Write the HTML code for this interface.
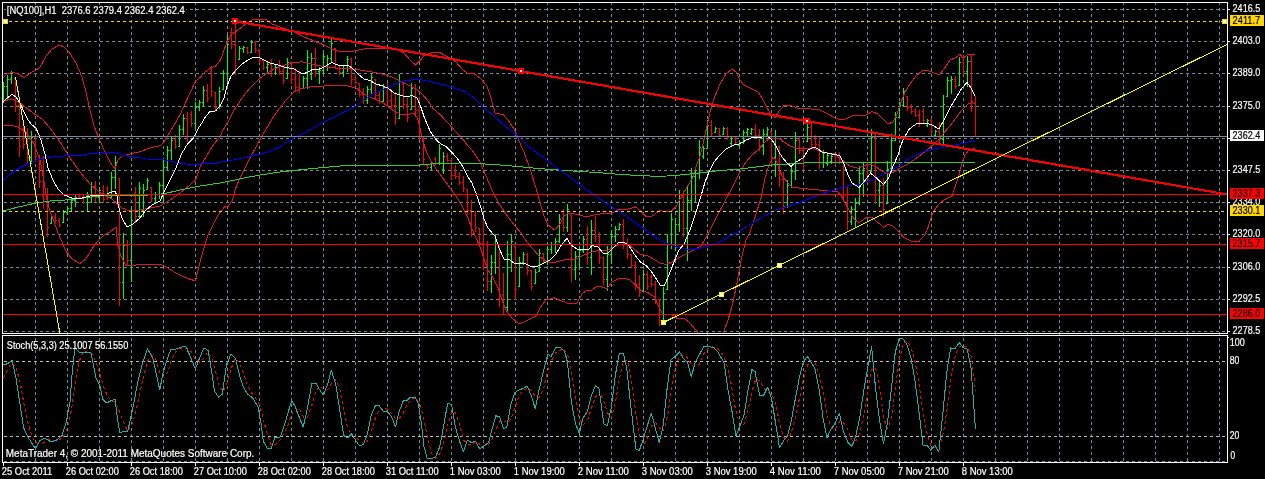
<!DOCTYPE html>
<html><head><meta charset="utf-8"><title>NQ100 H1</title>
<style>
html,body{margin:0;padding:0;background:#000;}
body{width:1265px;height:479px;overflow:hidden;}
svg{display:block;will-change:transform;}
text{font-family:"Liberation Sans","DejaVu Sans",sans-serif;font-size:10px;fill:#fff;stroke:#fff;stroke-width:0.2px;}
</style></head><body>
<svg width="1265" height="479" viewBox="0 0 1265 479">
<rect width="1265" height="479" fill="#000"/>
<g shape-rendering="crispEdges">
<line x1="4" y1="9.5" x2="1227" y2="9.5" stroke="#778899" stroke-width="1" stroke-dasharray="3 3"/>
<line x1="4" y1="41.5" x2="1227" y2="41.5" stroke="#778899" stroke-width="1" stroke-dasharray="3 3"/>
<line x1="4" y1="73.5" x2="1227" y2="73.5" stroke="#778899" stroke-width="1" stroke-dasharray="3 3"/>
<line x1="4" y1="106.5" x2="1227" y2="106.5" stroke="#778899" stroke-width="1" stroke-dasharray="3 3"/>
<line x1="4" y1="138.5" x2="1227" y2="138.5" stroke="#778899" stroke-width="1" stroke-dasharray="3 3"/>
<line x1="4" y1="170.5" x2="1227" y2="170.5" stroke="#778899" stroke-width="1" stroke-dasharray="3 3"/>
<line x1="4" y1="202.5" x2="1227" y2="202.5" stroke="#778899" stroke-width="1" stroke-dasharray="3 3"/>
<line x1="4" y1="234.5" x2="1227" y2="234.5" stroke="#778899" stroke-width="1" stroke-dasharray="3 3"/>
<line x1="4" y1="267.5" x2="1227" y2="267.5" stroke="#778899" stroke-width="1" stroke-dasharray="3 3"/>
<line x1="4" y1="299.5" x2="1227" y2="299.5" stroke="#778899" stroke-width="1" stroke-dasharray="3 3"/>
<line x1="4" y1="331.5" x2="1227" y2="331.5" stroke="#778899" stroke-width="1" stroke-dasharray="3 3"/>
<line x1="35.5" y1="2" x2="35.5" y2="462" stroke="#778899" stroke-width="1" stroke-dasharray="3 3"/>
<line x1="67.5" y1="2" x2="67.5" y2="462" stroke="#778899" stroke-width="1" stroke-dasharray="3 3"/>
<line x1="99.5" y1="2" x2="99.5" y2="462" stroke="#778899" stroke-width="1" stroke-dasharray="3 3"/>
<line x1="131.5" y1="2" x2="131.5" y2="462" stroke="#778899" stroke-width="1" stroke-dasharray="3 3"/>
<line x1="163.5" y1="2" x2="163.5" y2="462" stroke="#778899" stroke-width="1" stroke-dasharray="3 3"/>
<line x1="195.5" y1="2" x2="195.5" y2="462" stroke="#778899" stroke-width="1" stroke-dasharray="3 3"/>
<line x1="227.5" y1="2" x2="227.5" y2="462" stroke="#778899" stroke-width="1" stroke-dasharray="3 3"/>
<line x1="259.5" y1="2" x2="259.5" y2="462" stroke="#778899" stroke-width="1" stroke-dasharray="3 3"/>
<line x1="291.5" y1="2" x2="291.5" y2="462" stroke="#778899" stroke-width="1" stroke-dasharray="3 3"/>
<line x1="323.5" y1="2" x2="323.5" y2="462" stroke="#778899" stroke-width="1" stroke-dasharray="3 3"/>
<line x1="355.5" y1="2" x2="355.5" y2="462" stroke="#778899" stroke-width="1" stroke-dasharray="3 3"/>
<line x1="387.5" y1="2" x2="387.5" y2="462" stroke="#778899" stroke-width="1" stroke-dasharray="3 3"/>
<line x1="419.5" y1="2" x2="419.5" y2="462" stroke="#778899" stroke-width="1" stroke-dasharray="3 3"/>
<line x1="451.5" y1="2" x2="451.5" y2="462" stroke="#778899" stroke-width="1" stroke-dasharray="3 3"/>
<line x1="483.5" y1="2" x2="483.5" y2="462" stroke="#778899" stroke-width="1" stroke-dasharray="3 3"/>
<line x1="515.5" y1="2" x2="515.5" y2="462" stroke="#778899" stroke-width="1" stroke-dasharray="3 3"/>
<line x1="547.5" y1="2" x2="547.5" y2="462" stroke="#778899" stroke-width="1" stroke-dasharray="3 3"/>
<line x1="579.5" y1="2" x2="579.5" y2="462" stroke="#778899" stroke-width="1" stroke-dasharray="3 3"/>
<line x1="611.5" y1="2" x2="611.5" y2="462" stroke="#778899" stroke-width="1" stroke-dasharray="3 3"/>
<line x1="643.5" y1="2" x2="643.5" y2="462" stroke="#778899" stroke-width="1" stroke-dasharray="3 3"/>
<line x1="675.5" y1="2" x2="675.5" y2="462" stroke="#778899" stroke-width="1" stroke-dasharray="3 3"/>
<line x1="707.5" y1="2" x2="707.5" y2="462" stroke="#778899" stroke-width="1" stroke-dasharray="3 3"/>
<line x1="739.5" y1="2" x2="739.5" y2="462" stroke="#778899" stroke-width="1" stroke-dasharray="3 3"/>
<line x1="771.5" y1="2" x2="771.5" y2="462" stroke="#778899" stroke-width="1" stroke-dasharray="3 3"/>
<line x1="803.5" y1="2" x2="803.5" y2="462" stroke="#778899" stroke-width="1" stroke-dasharray="3 3"/>
<line x1="835.5" y1="2" x2="835.5" y2="462" stroke="#778899" stroke-width="1" stroke-dasharray="3 3"/>
<line x1="867.5" y1="2" x2="867.5" y2="462" stroke="#778899" stroke-width="1" stroke-dasharray="3 3"/>
<line x1="899.5" y1="2" x2="899.5" y2="462" stroke="#778899" stroke-width="1" stroke-dasharray="3 3"/>
<line x1="931.5" y1="2" x2="931.5" y2="462" stroke="#778899" stroke-width="1" stroke-dasharray="3 3"/>
<line x1="963.5" y1="2" x2="963.5" y2="462" stroke="#778899" stroke-width="1" stroke-dasharray="3 3"/>
<line x1="995.5" y1="2" x2="995.5" y2="462" stroke="#778899" stroke-width="1" stroke-dasharray="3 3"/>
<line x1="1027.5" y1="2" x2="1027.5" y2="462" stroke="#778899" stroke-width="1" stroke-dasharray="3 3"/>
<line x1="1059.5" y1="2" x2="1059.5" y2="462" stroke="#778899" stroke-width="1" stroke-dasharray="3 3"/>
<line x1="1091.5" y1="2" x2="1091.5" y2="462" stroke="#778899" stroke-width="1" stroke-dasharray="3 3"/>
<line x1="1123.5" y1="2" x2="1123.5" y2="462" stroke="#778899" stroke-width="1" stroke-dasharray="3 3"/>
<line x1="1155.5" y1="2" x2="1155.5" y2="462" stroke="#778899" stroke-width="1" stroke-dasharray="3 3"/>
<line x1="1187.5" y1="2" x2="1187.5" y2="462" stroke="#778899" stroke-width="1" stroke-dasharray="3 3"/>
<line x1="1219.5" y1="2" x2="1219.5" y2="462" stroke="#778899" stroke-width="1" stroke-dasharray="3 3"/>
<line x1="4" y1="461.5" x2="1227" y2="461.5" stroke="#778899" stroke-width="1" stroke-dasharray="3 3"/>
<line x1="4" y1="361.5" x2="1227" y2="361.5" stroke="#C0C0C0" stroke-width="1" stroke-dasharray="3 3"/>
<line x1="4" y1="436.5" x2="1227" y2="436.5" stroke="#C0C0C0" stroke-width="1" stroke-dasharray="3 3"/>
</g>
<g shape-rendering="crispEdges" stroke-width="1">
<path d="M3.5,82V103M2,98.5h1M4,86.5h1M7.5,75V99M6,86.5h1M8,79.5h1M11.5,71V84M10,79.5h1M12,73.5h1M31.5,131V164M30,157.5h1M32,137.5h1M51.5,216V224M50,223.5h1M52,217.5h1M63.5,210V223M62,222.5h1M64,212.5h1M67.5,207V215M66,212.5h1M68,208.5h1M71.5,198V212M70,208.5h1M72,200.5h1M75.5,195V207M74,200.5h1M76,197.5h1M87.5,192V211M86,202.5h1M88,195.5h1M91.5,182V203M90,195.5h1M92,186.5h1M99.5,187V203M98,197.5h1M100,190.5h1M111.5,172V199M110,197.5h1M112,177.5h1M115.5,156V189M114,177.5h1M116,162.5h1M123.5,233V299M122,282.5h1M124,245.5h1M131.5,207V282M130,260.5h1M132,220.5h1M139.5,182V219M138,216.5h1M140,188.5h1M143.5,184V217M142,210.5h1M144,190.5h1M147.5,178V190M146,189.5h1M148,180.5h1M155.5,192V203M154,198.5h1M156,194.5h1M159.5,182V199M158,194.5h1M160,185.5h1M163.5,159V204M162,185.5h1M164,167.5h1M167.5,146V170M166,167.5h1M168,150.5h1M171.5,136V160M170,150.5h1M172,140.5h1M179.5,125V147M178,146.5h1M180,129.5h1M183.5,114V135M182,129.5h1M184,118.5h1M195.5,102V129M194,123.5h1M196,107.5h1M199.5,100V111M198,107.5h1M200,102.5h1M203.5,86V107M202,102.5h1M204,90.5h1M219.5,87V109M218,107.5h1M220,91.5h1M223.5,70V90M222,89.5h1M224,73.5h1M227.5,35V85M226,73.5h1M228,44.5h1M239.5,46V60M238,59.5h1M240,48.5h1M243.5,46V53M242,48.5h1M244,47.5h1M251.5,40V53M250,52.5h1M252,42.5h1M267.5,62V72M266,67.5h1M268,64.5h1M275.5,65V75M274,73.5h1M276,67.5h1M287.5,58V79M286,78.5h1M288,62.5h1M303.5,76V89M302,88.5h1M304,78.5h1M307.5,50V89M306,78.5h1M308,57.5h1M311.5,53V80M310,74.5h1M312,58.5h1M319.5,67V84M318,71.5h1M320,70.5h1M323.5,53V73M322,70.5h1M324,56.5h1M327.5,55V71M326,67.5h1M328,58.5h1M331.5,39V63M330,58.5h1M332,43.5h1M343.5,66V77M342,72.5h1M344,68.5h1M347.5,56V72M346,68.5h1M348,59.5h1M367.5,86V104M366,100.5h1M368,89.5h1M371.5,74V94M370,89.5h1M372,77.5h1M383.5,84V102M382,101.5h1M384,87.5h1M399.5,74V119M398,118.5h1M400,82.5h1M411.5,83V110M410,109.5h1M412,88.5h1M431.5,162V170M430,167.5h1M432,163.5h1M439.5,144V165M438,163.5h1M440,148.5h1M443.5,152V174M442,169.5h1M444,156.5h1M491.5,255V293M490,281.5h1M492,262.5h1M495.5,234V274M494,262.5h1M496,241.5h1M507.5,241V313M506,307.5h1M508,254.5h1M511.5,234V272M510,254.5h1M512,241.5h1M519.5,257V287M518,286.5h1M520,262.5h1M523.5,252V265M522,262.5h1M524,254.5h1M535.5,269V284M534,283.5h1M536,272.5h1M539.5,249V272M538,271.5h1M540,253.5h1M547.5,246V265M546,261.5h1M548,249.5h1M551.5,242V254M550,249.5h1M552,244.5h1M555.5,238V253M554,244.5h1M556,241.5h1M559.5,214V243M558,241.5h1M560,219.5h1M567.5,204V232M566,227.5h1M568,209.5h1M575.5,251V280M574,269.5h1M576,256.5h1M579.5,246V270M578,256.5h1M580,250.5h1M583.5,236V253M582,250.5h1M584,239.5h1M591.5,220V275M590,257.5h1M592,230.5h1M607.5,246V291M606,279.5h1M608,254.5h1M611.5,230V264M610,254.5h1M612,236.5h1M615.5,226V242M614,236.5h1M616,229.5h1M619.5,223V230M618,229.5h1M620,224.5h1M643.5,270V292M642,291.5h1M644,274.5h1M663.5,287V322M662,320.5h1M664,293.5h1M667.5,234V290M666,289.5h1M668,244.5h1M671.5,213V249M670,244.5h1M672,219.5h1M675.5,218V251M674,244.5h1M676,224.5h1M679.5,190V232M678,224.5h1M680,197.5h1M687.5,187V261M686,228.5h1M688,200.5h1M691.5,168V211M690,200.5h1M692,176.5h1M695.5,167V202M694,176.5h1M696,173.5h1M699.5,140V179M698,173.5h1M700,147.5h1M703.5,146V159M702,156.5h1M704,148.5h1M707.5,120V149M706,148.5h1M708,125.5h1M715.5,127V133M714,132.5h1M716,128.5h1M723.5,127V135M722,134.5h1M724,128.5h1M731.5,136V146M730,143.5h1M732,138.5h1M739.5,141V147M738,145.5h1M740,142.5h1M743.5,130V144M742,142.5h1M744,132.5h1M747.5,128V137M746,132.5h1M748,129.5h1M751.5,128V135M750,133.5h1M752,129.5h1M763.5,129V155M762,146.5h1M764,134.5h1M767.5,127V137M766,134.5h1M768,129.5h1M775.5,130V177M774,157.5h1M776,138.5h1M787.5,180V208M786,206.5h1M788,185.5h1M791.5,167V188M790,185.5h1M792,171.5h1M795.5,132V180M794,171.5h1M796,140.5h1M807.5,124V142M806,141.5h1M808,127.5h1M823.5,150V168M822,162.5h1M824,153.5h1M827.5,153V166M826,163.5h1M828,155.5h1M831.5,154V164M830,161.5h1M832,156.5h1M851.5,206V225M850,221.5h1M852,209.5h1M855.5,198V228M854,209.5h1M856,203.5h1M859.5,166V205M858,203.5h1M860,173.5h1M863.5,162V197M862,173.5h1M864,168.5h1M871.5,129V172M870,171.5h1M872,137.5h1M879.5,180V207M878,190.5h1M880,185.5h1M887.5,161V204M886,203.5h1M888,169.5h1M891.5,134V169M890,168.5h1M892,140.5h1M895.5,112V141M894,140.5h1M896,117.5h1M899.5,102V118M898,117.5h1M900,105.5h1M903.5,88V107M902,105.5h1M904,91.5h1M927.5,119V127M926,125.5h1M928,120.5h1M935.5,130V137M934,135.5h1M936,131.5h1M943.5,95V145M942,139.5h1M944,104.5h1M947.5,77V97M946,96.5h1M948,80.5h1M951.5,76V94M950,80.5h1M952,79.5h1M959.5,57V86M958,85.5h1M960,62.5h1M967.5,56V87M966,71.5h1M968,61.5h1" stroke="#00FF00" fill="none"/>
<path d="M15.5,78V112M14,78.5h1M16,105.5h1M19.5,101V157M18,105.5h1M20,146.5h1M23.5,126V149M22,130.5h1M24,144.5h1M27.5,128V164M26,144.5h1M28,157.5h1M35.5,136V162M34,137.5h1M36,156.5h1M39.5,155V188M38,156.5h1M40,181.5h1M43.5,156V209M42,181.5h1M44,199.5h1M47.5,188V237M46,199.5h1M48,227.5h1M55.5,213V223M54,217.5h1M56,220.5h1M59.5,218V227M58,220.5h1M60,225.5h1M79.5,195V199M78,196.5h1M80,197.5h1M83.5,195V204M82,197.5h1M84,202.5h1M95.5,181V202M94,186.5h1M96,197.5h1M103.5,185V203M102,190.5h1M104,199.5h1M107.5,186V200M106,188.5h1M108,197.5h1M119.5,178V306M118,178.5h1M120,282.5h1M127.5,240V266M126,245.5h1M128,260.5h1M135.5,187V223M134,193.5h1M136,216.5h1M151.5,187V202M150,187.5h1M152,198.5h1M175.5,135V149M174,140.5h1M176,146.5h1M187.5,112V142M186,118.5h1M188,136.5h1M191.5,111V127M190,114.5h1M192,123.5h1M207.5,84V102M206,90.5h1M208,98.5h1M211.5,66V97M210,71.5h1M212,91.5h1M215.5,92V111M214,92.5h1M216,107.5h1M231.5,28V49M230,32.5h1M232,44.5h1M235.5,22V75M234,44.5h1M236,65.5h1M247.5,47V54M246,47.5h1M248,52.5h1M255.5,41V53M254,42.5h1M256,50.5h1M259.5,49V63M258,50.5h1M260,60.5h1M263.5,59V70M262,60.5h1M264,67.5h1M271.5,59V77M270,64.5h1M272,73.5h1M279.5,60V75M278,67.5h1M280,71.5h1M283.5,67V84M282,71.5h1M284,80.5h1M291.5,62V84M290,62.5h1M292,79.5h1M295.5,68V92M294,79.5h1M296,87.5h1M299.5,71V93M298,87.5h1M300,88.5h1M315.5,48V77M314,58.5h1M316,71.5h1M335.5,48V69M334,48.5h1M336,64.5h1M339.5,65V75M338,65.5h1M340,72.5h1M351.5,58V85M350,59.5h1M352,79.5h1M355.5,74V85M354,79.5h1M356,82.5h1M359.5,83V97M358,83.5h1M360,94.5h1M363.5,88V104M362,94.5h1M364,100.5h1M375.5,79V99M374,79.5h1M376,95.5h1M379.5,92V104M378,95.5h1M380,101.5h1M387.5,83V105M386,87.5h1M388,100.5h1M391.5,90V109M390,100.5h1M392,105.5h1M395.5,92V125M394,105.5h1M396,118.5h1M403.5,83V109M402,83.5h1M404,104.5h1M407.5,98V122M406,104.5h1M408,117.5h1M415.5,84V117M414,88.5h1M416,110.5h1M419.5,97V140M418,110.5h1M420,131.5h1M423.5,136V165M422,136.5h1M424,159.5h1M427.5,165V169M426,165.5h1M428,167.5h1M435.5,157V165M434,158.5h1M436,163.5h1M447.5,153V162M446,156.5h1M448,160.5h1M451.5,159V180M450,160.5h1M452,175.5h1M455.5,165V179M454,175.5h1M456,176.5h1M459.5,172V185M458,176.5h1M460,182.5h1M463.5,176V192M462,182.5h1M464,188.5h1M467.5,189V215M466,189.5h1M468,210.5h1M471.5,200V237M470,210.5h1M472,230.5h1M475.5,211V232M474,215.5h1M476,227.5h1M479.5,228V247M478,228.5h1M480,243.5h1M483.5,220V270M482,243.5h1M484,260.5h1M487.5,241V291M486,260.5h1M488,281.5h1M499.5,246V307M498,246.5h1M500,295.5h1M503.5,273V315M502,295.5h1M504,307.5h1M515.5,246V300M514,246.5h1M516,289.5h1M527.5,253V275M526,254.5h1M528,270.5h1M531.5,270V290M530,270.5h1M532,286.5h1M543.5,253V264M542,253.5h1M544,261.5h1M563.5,209V232M562,219.5h1M564,227.5h1M571.5,215V282M570,215.5h1M572,269.5h1M587.5,226V265M586,239.5h1M588,257.5h1M595.5,216V242M594,230.5h1M596,236.5h1M599.5,232V264M598,236.5h1M600,257.5h1M603.5,257V285M602,257.5h1M604,279.5h1M623.5,219V249M622,224.5h1M624,243.5h1M627.5,238V259M626,243.5h1M628,254.5h1M631.5,254V268M630,254.5h1M632,265.5h1M635.5,261V290M634,265.5h1M636,284.5h1M639.5,275V297M638,284.5h1M640,292.5h1M647.5,271V290M646,274.5h1M648,286.5h1M651.5,274V287M650,276.5h1M652,284.5h1M655.5,281V304M654,284.5h1M656,299.5h1M659.5,299V326M658,299.5h1M660,320.5h1M683.5,191V237M682,197.5h1M684,228.5h1M711.5,120V137M710,125.5h1M712,133.5h1M719.5,128V137M718,128.5h1M720,135.5h1M727.5,127V140M726,128.5h1M728,137.5h1M735.5,136V144M734,138.5h1M736,142.5h1M755.5,124V139M754,129.5h1M756,135.5h1M759.5,129V151M758,135.5h1M760,146.5h1M771.5,131V164M770,131.5h1M772,157.5h1M779.5,146V187M778,146.5h1M780,179.5h1M783.5,172V214M782,179.5h1M784,206.5h1M799.5,136V154M798,140.5h1M800,150.5h1M803.5,146V170M802,150.5h1M804,165.5h1M811.5,123V149M810,127.5h1M812,144.5h1M815.5,135V147M814,137.5h1M816,144.5h1M819.5,136V169M818,144.5h1M820,162.5h1M835.5,155V165M834,156.5h1M836,162.5h1M839.5,152V164M838,154.5h1M840,161.5h1M843.5,160V202M842,161.5h1M844,194.5h1M847.5,187V230M846,194.5h1M848,221.5h1M867.5,163V183M866,168.5h1M868,179.5h1M875.5,133V204M874,137.5h1M876,190.5h1M883.5,178V217M882,185.5h1M884,209.5h1M907.5,96V111M906,96.5h1M908,107.5h1M911.5,104V114M910,107.5h1M912,111.5h1M915.5,108V117M914,111.5h1M916,115.5h1M919.5,110V127M918,115.5h1M920,123.5h1M923.5,108V124M922,111.5h1M924,120.5h1M931.5,118V135M930,120.5h1M932,131.5h1M939.5,122V144M938,131.5h1M940,139.5h1M955.5,76V89M954,79.5h1M956,86.5h1M963.5,55V75M962,62.5h1M964,71.5h1M971.5,55V112M970,61.5h1M972,101.5h1M975.5,96V137M974,103.5h1M976,136.5h1" stroke="#FF0000" fill="none"/>
</g>
<defs><clipPath id="cm"><rect x="3" y="3" width="1224" height="330"/></clipPath><clipPath id="cs"><rect x="3" y="336" width="1224" height="126"/></clipPath></defs>
<g stroke-linejoin="round" shape-rendering="crispEdges" clip-path="url(#cm)">
<polyline points="3,78.1 7,74.1 12,72.1 18,73.7 24,77.5 30,73.1 36,70.1 40,67.1 46,56.1 52,49 59,45 64,47 69,52 76,63 82,77 86,92 90,110 94,126 98,136 104,150 110,162 115,169 118,160 122,156 130,154 140,151.7 150,148 160,145.7 164,142 170,132 176,122 180.4,114 184.4,105 190.5,92 195.5,81 200.5,77 204.5,72.5 210.5,68 215.5,66 220.5,60 224,50 228,40 232,34 238,30 246,24 253,19.4 260,19 267,20 272,24 280,27 292,31 304,37 314,41 324,45 332,49 340,51.5 352,51.5 364,49 376,48.7 386,48 396,49 404,53 410,60 415.5,65 420.5,60 424.5,55 432.5,52.5 440.5,53 448,57 456,62 462,69 467,73 474,73.5 480,78 487,86 491,98 495,113 503,114.5 508,120 514,129 518,138 521,146 524,152 530,169 536,188 540,202 544,216 548,225 555,230 560,224 564,216 569,213 578,214.6 586,217 594,215 602,213.6 612,213 618,209.8 628,209 635.5,207 640.5,211 646.5,217 652.5,216 659.5,210.5 664.5,211.6 671.5,211 676.5,206 680.5,198 686.5,188 693,177 697,164 700,156 703,144 707,126 710,112 715,96 720,84 726,74 732,69 736,72 740,80 744,85 750,88 758,92 762,98 766,106 770,113 775,118 779,111 784,105.7 792,106 800,109 808,108.7 820,110 828,114 836,118.5 842,120 848,118 854,115 866,115 872,111.5 878,114 883,119 888,124 893,122 897,114 901,102 905,92 910,84 916,76 922,71 927,70.5 932,72 939,75 944,69 950,60 955,58 960,54.4 963,58 968,54.4 974.7,54.4" fill="none" stroke="#DC143C" stroke-width="1"/>
<polyline points="3,101 12,99 20,103 28,109 36,115 42,119 50,128 60,142 70,158 80,172 90,184 98,191 104,195 112,199 122,208 130,211 140,210 150,208 160,206 170,200 180,193 190,185 195.5,180 200.5,166 206.5,156 212.5,146 220.5,136 222,132 228,122 234,110 237,106 242,98 250,88 258,80 266,74 274,69 282,66 292,63 302,61.7 308,63 316,65 326,67 336,68 348,68.5 360,70 372,72 384,74.5 392,77 400,81 408,85 416,89 422,94 428,101 432.5,108 440.5,115 448,123 456,132 462,138 468,146 472,150 480,162 486,176 492,190 498,202 506,214 514,225 522,234 524,238 532,248 540,257 546,261 552,263 560,261 568,259 576,259 584,255 592,252 600,250 608,250 614,247 620,244 628,244 634,249 640,254 648,256 655,260 660,263 666,264.5 672,262 680,257 688,253 694,250 701,246 708,234 716,218 724,203 732,188 740,172 746,162 752,155 758,150 764,143 769,138.6 775,138 780,139 784,142 790,146 796,148 804,148 812,148 820,151 828,153 834,153.5 842,160 850,166 858,168.4 866,165 870,164 876,167 882,171 888,174 894,172 900,168 908,164 918,157 926,151 934,144 940,138 943,134 950,126 956,118 962,110 968,104 972,102.5 974.7,104" fill="none" stroke="#DC143C" stroke-width="1"/>
<polyline points="3,126 10,125 18,127 26,132 34,144 40,160 43,176 46,194 49,208 54,222 60,238 66,251 72,259 80,263.5 86,259 92,249 98,241 104,235 110,232 116,227 118,246 121,256 126,265.7 140,264.7 160,264 166,267 176,273 186,277.8 195.5,281 197.5,272 200.5,260 204.5,246 207.5,236 212.5,226 218,215 224.5,207 228.5,206 232.6,200 235,190 239,180 244,170 250,158 256,147 262,136 268,126 274,116 280,108 286,100 294,92 300,89 310,87 324,86 336,85 348,86 356,88 364,94 372,98 380,101 386,105 394,111 400,114 406,115 414,113 417.5,118 420.5,130 422.5,140 426.5,152 430.5,160 435.5,168 440.5,175 448,185 456,196 462,206 468,218 472,229 476,238 480,247 484,259 488,270 493,278 498,288 502,300 506,310 511,317 519,324 526,321 536,316 540,308 546,300 554,297.8 562,301 570,304 577,303 582,294 587,290 592,290 597,286 602,287 607,288.5 612,282 618,279 624,278 630,280 635.5,285 640.5,290 648.5,293 654.5,297 658.5,306 662.5,314 672,314.6 678,319 684,318 690,323 695,329 699,334 711,345 723,334 728,320 732,306 736,288 739,272 742,256 746,240 750,232 756,214 761,198 765,178 769,165 772,159 775,158 778,166 782,176 788,183 792,187 804,188.7 816,189.7 828,191 838,192 843,199 847.6,207.5 851.4,215 855,220 859,222.6 862.7,220 866.4,217.3 872,217.5 876.4,221.3 880.2,224.4 883.3,227.6 887.7,224.4 892.7,225.7 897.7,230.7 904,237.6 911.5,241.4 919,241.4 924,236 928,227.6 931.6,216 934,211 939,203.8 943,200.6 948,198 952,196 955,187 959,175 962,163 965,155 969,150 974.7,148.4" fill="none" stroke="#DC143C" stroke-width="1"/>
<polyline points="3,211 20,206.6 36,203 50,201 68,199.8 84,198 104,195.4 120,195 148,195 164,193.8 180,190 200,186 220,183 232,180.6 244,178 260,175 280,172 300,169.8 320,167.8 340,166 360,165.8 370,165 390,165.8 404,165.5 420.5,165 430.5,164 440.5,163.4 460,163 480,163.7 500,165 520,166.7 540,168.7 560,170 580,171.5 600,172.7 620,174.5 640,175.5 660,176.5 680,175 700,173 720,170.5 740,169 760,166.5 772,165 788,164 812,162.5 836,162.5 860,162.5 913,162.5 974.7,162.5" fill="none" stroke="#32CD32" stroke-width="1"/>
<polyline points="3,180.5 8,176 14,171 20,167.7 28,163.7 36,160 44,158 56,156.5 68,155.7 80,155.3 90,153.7 100,153 108,152 116,152 122,155 130,156.7 140,157.7 150,159.5 164,160 174.4,162 186.4,164 200.5,164 216.5,163 228.5,161 240.6,158.5 256,155 268,152 280,147 290,140 300,135 310,130 320,124 330,119 340,114 350,109 358,105 364,99 374,94 384,89 394,84.5 404,81 414,79.5 422,80 432,82 442,84.5 452,87.5 464,91 474,98 484,108 494,116 506,127 518,136 528,146 540,155 550,163 560,170 570,177 580,185 590,192 600,199 610,205.8 620,212 630,219 640,226 648.5,232 653.5,236 660.5,240.5 668.5,244 676.5,247 684.6,249 693,249.6 700,248.4 712,245 720,242 726,238 736,233 746,227 756,221 766,215 776,210 786,207 796,204 806,200 816,196 826,192.5 836,190 844,186.5 852,185 860,184.5 868,181 876,178 884,174 892,170 900,165 908,159 920,153 932,149.5 944,147 956,145 968,142 974.7,141" fill="none" stroke="#0000FF" stroke-width="1"/>
<polyline points="3,102 7,98 12,94.5 16,97 20,103 24,112 28,120 32,125 36,128 41,140 45,154 48,168 53,180 58,189 64,195 72,198 82,198 90,196 104,195 112,192 115,191 117,196 118,204 120,212 122,218 127,227 133,224 140,218 146,210 152,205 160,201 164,192 170,180 176.4,167 181.4,154 187.4,144 193.5,138 198.5,128 202.5,122 204.5,118 209.5,112 215.5,111 220.5,105 224,98 227,86 231,76 236,70 242,64 248,60 253,57.5 259,57.5 264,60 270,63 278,65 286,67.5 294,69 299,72 303,74 308,72 312,69.7 318,69.7 324,67 329,64 332,62.5 336,64.5 340,65.5 348,65.5 352,68 358,74 364,79 370,80.5 376,84 382,85.7 388,88 394,93 400,95 406,97 412,95.6 417,98 420.5,106 424.5,118 430.5,132 436.5,140 440.5,143.7 446.5,147 452.5,153 458.5,160 463.6,168 468.6,178 472,183 477,196 481,208 484,219 488,228 493,234 495,236 499,248 504,259 510,260 515,264 520,263 526,264 532,267 538,266 544,263 550,260 556,254 562,244 567,238.4 571,245 577,249 583,249 588,250 592,245.6 598,247 603,253 608,253 614,247 619,242 624,242 629,246 635.5,256 640.5,262 646.5,266 652.5,273 657.5,281 660.5,285.5 664.5,285.5 668.5,276 674,262 679,250 684,244 690,230 696,212 701,196 705,182 709,172 714,162 719,156 726,149 734,145 740,143.8 746,140 754,137 762,137 768,136.8 772,140 776,146 779,152 782,157 787,163 791,166.4 796,162 803,158 807,152 808,150 814,147 818,149 822,152 832,154 836,154.5 840,156 844,164 848,175 852,183 859,187.5 864,182 870.5,173 877.5,179 883.5,184.5 888.5,178 893.5,165 898.5,154 900.5,146 904.5,137 908.6,130 913,126 918,123 926,123 932,125 939,129 944,120 950,108 956,98 962,88 967,82.5 971,88 975,96" fill="none" stroke="#FFFFFF" stroke-width="1"/>
</g>
<g shape-rendering="crispEdges">
<line x1="3" y1="136.5" x2="1227" y2="136.5" stroke="#778899" stroke-width="1"/>
<line x1="3" y1="21.5" x2="1227" y2="21.5" stroke="#FFD700" stroke-width="1" stroke-dasharray="3 3"/>
<line x1="3" y1="211.5" x2="1227" y2="211.5" stroke="#FFD700" stroke-width="1" stroke-dasharray="3 3"/>
<line x1="3" y1="194.5" x2="1227" y2="194.5" stroke="#FF0000" stroke-width="1"/>
<line x1="3" y1="244.5" x2="1227" y2="244.5" stroke="#FF0000" stroke-width="1"/>
<line x1="3" y1="314.5" x2="1227" y2="314.5" stroke="#FF0000" stroke-width="1"/>
</g>
<g shape-rendering="crispEdges" clip-path="url(#cm)">
<line x1="235" y1="21.21" x2="1227.5" y2="194.52" stroke="#FF0000" stroke-width="2.1"/>
<line x1="663.5" y1="322.5" x2="1227" y2="44.5" stroke="#FFFF00" stroke-width="1"/>
<line x1="15.5" y1="77" x2="59.8" y2="333" stroke="#FFFF00" stroke-width="1"/>
</g>
<g shape-rendering="crispEdges">
<rect x="232" y="18" width="6" height="6" fill="#FF0000"/><rect x="234" y="20" width="2" height="2" fill="#fff"/>
<rect x="518" y="68" width="6" height="6" fill="#FF0000"/><rect x="520" y="70" width="2" height="2" fill="#fff"/>
<rect x="804" y="118" width="6" height="6" fill="#FF0000"/><rect x="806" y="120" width="2" height="2" fill="#fff"/>
<rect x="661" y="320" width="5" height="5" fill="#FFFF00"/><rect x="662" y="321" width="3" height="3" fill="#fff"/>
<rect x="719" y="292" width="5" height="5" fill="#FFFF00"/><rect x="720" y="293" width="3" height="3" fill="#fff"/>
<rect x="777" y="263" width="5" height="5" fill="#FFFF00"/><rect x="778" y="264" width="3" height="3" fill="#fff"/>
<rect x="3" y="19" width="5" height="5" fill="#FFD700"/><rect x="4" y="20" width="3" height="3" fill="#fff"/><rect x="1222" y="19" width="5" height="5" fill="#FFD700"/><rect x="1223" y="20" width="3" height="3" fill="#fff"/>
</g>
<g stroke-linejoin="round" shape-rendering="crispEdges" clip-path="url(#cs)">
<polyline points="3.5,378 7.5,370 11.5,363 15.5,366.6 19.5,379.1 23.5,401.2 27.5,421.2 31.5,435 35.5,442.4 39.5,444.2 43.5,442.9 47.5,439.8 51.5,440.1 55.5,440.7 59.5,439.9 63.5,436.3 67.5,427.8 71.5,409.3 75.5,381.9 79.5,360.8 83.5,350.8 87.5,352.2 91.5,353.3 95.5,361.2 99.5,372 103.5,386.8 107.5,395.8 111.5,401 115.5,402 119.5,411.6 123.5,421.7 127.5,431.1 131.5,425.4 135.5,413.1 139.5,394.4 143.5,376.5 147.5,361.4 151.5,355 155.5,358.4 159.5,371.7 163.5,376.8 167.5,372.8 171.5,359.6 175.5,352.1 179.5,348.6 183.5,347.9 187.5,348.3 191.5,352.2 195.5,359.4 199.5,362.1 203.5,358.6 207.5,352.5 211.5,356.7 215.5,371.2 219.5,386.6 223.5,391.6 227.5,381.5 231.5,367.6 235.5,358.4 239.5,362.8 243.5,373.6 247.5,385.5 251.5,392.7 255.5,398 259.5,404.9 263.5,419.8 267.5,434.9 271.5,445.7 275.5,444.2 279.5,440.5 283.5,433.9 287.5,426.4 291.5,414.6 295.5,407.9 299.5,409 303.5,417 307.5,417 311.5,406.4 315.5,392.2 319.5,386.2 323.5,389.2 327.5,389.6 331.5,383.4 335.5,379.7 339.5,387.6 343.5,408.8 347.5,426.9 351.5,435.4 355.5,437.3 359.5,440 363.5,443.4 367.5,441.3 371.5,430.8 375.5,418 379.5,408.8 383.5,407.7 387.5,409.7 391.5,413.3 395.5,418.5 399.5,418.1 403.5,412.7 407.5,403.7 411.5,399.2 415.5,398.4 419.5,402.2 423.5,417.3 427.5,437.5 431.5,453.2 435.5,458.1 439.5,454.2 443.5,443.6 447.5,426 451.5,411.9 455.5,412.2 459.5,424.5 463.5,440.1 467.5,444.3 471.5,444.8 475.5,441.3 479.5,444.1 483.5,445.4 487.5,446.1 491.5,440.4 495.5,430.5 499.5,421.7 503.5,420.6 507.5,422.8 511.5,417.9 515.5,405.9 519.5,394.7 523.5,390 527.5,388.2 531.5,390.5 535.5,397 539.5,397.5 543.5,388.9 547.5,371.5 551.5,360.6 555.5,352.9 559.5,350.4 563.5,348.8 567.5,353.8 571.5,371.9 575.5,396.3 579.5,419.5 583.5,424.4 587.5,420.2 591.5,407.8 595.5,397.4 599.5,391.2 603.5,399.9 607.5,413 611.5,417.7 615.5,401.9 619.5,377.9 623.5,360.5 627.5,360.8 631.5,380.5 635.5,410.9 639.5,435.8 643.5,444.6 647.5,437.8 651.5,425.8 655.5,422.6 659.5,427.9 663.5,430.9 667.5,416.5 671.5,389.2 675.5,367 679.5,355.7 683.5,355.4 687.5,357.6 691.5,365.6 695.5,366.7 699.5,364 703.5,354.3 707.5,349.1 711.5,346.7 715.5,347.6 719.5,350.5 723.5,355.5 727.5,367.8 731.5,385.7 735.5,409.3 739.5,422.8 743.5,425.3 747.5,412.2 751.5,393.9 755.5,379.8 759.5,380.1 763.5,387.9 767.5,392.3 771.5,393.7 775.5,402.8 779.5,423 783.5,437.1 787.5,441.5 791.5,432 795.5,417.7 799.5,398.2 803.5,378.9 807.5,365.2 811.5,360.5 815.5,363.8 819.5,375.5 823.5,394.6 827.5,416.4 831.5,428.4 835.5,429.1 839.5,421.6 843.5,422.6 847.5,428.9 851.5,439.7 855.5,441.5 859.5,434 863.5,416.1 867.5,393.4 871.5,369.6 875.5,368 879.5,385 883.5,417.2 887.5,428.7 891.5,417.9 895.5,387 899.5,359.1 903.5,343.1 907.5,341.4 911.5,348.7 915.5,363.8 919.5,387.1 923.5,415.2 927.5,435.7 931.5,446.8 935.5,447.2 939.5,447 943.5,432.6 947.5,406.5 951.5,374.1 955.5,354.5 959.5,346.2 963.5,346.2 967.5,347.1 971.5,357.6 975.5,391" fill="none" stroke="#FF0000" stroke-width="1" stroke-dasharray="3 3"/>
<polyline points="3,365 8,363.6 12,360 16,378 20,404.4 23.7,428 29,438.7 35.5,449 39.5,441 44.7,438 51,442 56.6,440 62,435.5 66,423 70,402 72.4,370 75,348 79,352 84,352 91,353 93.4,365 96,378 100,386 102.7,399 106.6,403 110.6,401 115,399 117,415 119.8,433 123.7,431 127.7,431 130.3,420 134,402 138,381 142,365 147.4,348.6 152.7,358 156.6,375.5 159.8,390 163,373 167,359.7 171,349 176.4,349 181.6,347 185.6,346.5 189.5,354.4 195.3,369 200,357 204,347.8 208,350.5 210.6,365 214.5,391 218.5,397 222.4,394 226.4,365 231,354 235.6,358.4 239.5,375.5 243.5,387 247.4,394 252.7,398 258,407 261,423 263.2,441 267,448 271,449 275,437 280.3,437 284.3,425.5 288.2,412 291.7,401 294.8,405.8 298.8,416 303.2,427 306.7,412 312,383 315.9,383.4 319.8,390 323.4,395 328,383.4 331.3,370 335.8,384.7 339.7,409.7 343.7,435.5 347.6,438 351.6,434 355.5,440 359.5,446 363.4,444.5 367.4,434 371.3,415 375.3,405.8 379.2,405.8 383.2,411 388,412 392,417.6 395.5,426.8 399,412 403.4,400.5 406.9,400.5 410.8,397 414.8,397 418.2,403 421.3,423 424,446.6 427.4,459 431.9,458.4 435.8,456.6 439.8,446.6 443.7,425.5 447.7,403 451.6,405 455.6,428 459.5,441 463.5,451.8 467.4,440 471.4,442.6 475.3,441 479.8,449 483.2,446.6 488.5,442.6 492.4,428 495.8,415.8 499.8,417 503.7,428.7 506.9,426.8 510.8,404.4 514.8,392.6 518.7,390 522.7,388.6 527.2,386 530.6,394 535.3,408.4 538.5,392.6 542.4,375.5 547.7,354.4 551,356.5 555.6,347.8 560.8,347.8 564.8,351.8 567.4,362 571.4,401.8 575.3,423 579.3,433.4 583.2,417.6 587.2,412 591.1,396.5 595.6,385.5 599,388.6 603.8,424 607.4,425.5 611.4,407 615.3,375.5 619.3,353 623.2,353 626.7,367.6 630.6,404.4 635.9,449 639.3,450.5 643.4,438.7 647.4,425.5 651.3,413 655.3,428 659.2,442.6 663.2,425.5 667.1,388.6 671,359.7 675,356.5 679.5,351.8 683.4,358.4 687.4,362 691.3,376.8 695.3,362 699.2,355 704,346 708.4,346 713.7,347.8 717.7,351.8 721.6,358.4 724.2,363.6 728.2,391 732.1,412 736,436 740,425.5 744,415 747.9,391 751.9,369.7 755,371.5 759.8,396 763.7,395 767.7,387 771.6,399 775.6,423 779.5,447.9 783.5,441 787.4,436 791.4,420 795.3,399 799.3,378 803.2,362 807.2,356.5 811,362 815,369 819,388.6 823,417.6 826.9,438 830.8,429.4 834.8,424 839.3,413 843.2,430.8 848,442.6 851.9,446.6 855.8,436 859.8,417.6 863.7,391 867.7,367.6 871.6,347 875.6,388.6 879.5,420 883.5,444 887.4,423 891.4,388.6 895.3,351.8 899.3,338.6 903.2,339 907.2,345 911.1,358.4 915,380.7 919,412 923,445 926.9,445 930.9,450.5 934.8,445 938.8,451.8 942.7,415 946.7,372.8 950.6,347.8 954.6,349 959.3,342.6 963.2,347.8 967.2,349 971,367.6 975.5,429.5" fill="none" stroke="#20B2AA" stroke-width="1"/>
</g>
<g shape-rendering="crispEdges">
<rect x="1228" y="0" width="37" height="479" fill="#000"/>
<line x1="2.5" y1="2" x2="2.5" y2="334" stroke="#fff" stroke-width="1"/>
<line x1="2" y1="2.5" x2="1228" y2="2.5" stroke="#fff" stroke-width="1"/>
<line x1="2" y1="333.5" x2="1228" y2="333.5" stroke="#fff" stroke-width="1"/>
<line x1="1227.5" y1="2" x2="1227.5" y2="334" stroke="#fff" stroke-width="1"/>
<line x1="2.5" y1="335" x2="2.5" y2="463" stroke="#fff" stroke-width="1"/>
<line x1="2" y1="335.5" x2="1228" y2="335.5" stroke="#fff" stroke-width="1"/>
<line x1="2" y1="462.5" x2="1228" y2="462.5" stroke="#fff" stroke-width="1"/>
<line x1="1227.5" y1="335" x2="1227.5" y2="463" stroke="#fff" stroke-width="1"/>
<line x1="1228" y1="9.5" x2="1230" y2="9.5" stroke="#fff" stroke-width="1"/>
<line x1="1228" y1="41.5" x2="1230" y2="41.5" stroke="#fff" stroke-width="1"/>
<line x1="1228" y1="73.5" x2="1230" y2="73.5" stroke="#fff" stroke-width="1"/>
<line x1="1228" y1="106.5" x2="1230" y2="106.5" stroke="#fff" stroke-width="1"/>
<line x1="1228" y1="138.5" x2="1230" y2="138.5" stroke="#fff" stroke-width="1"/>
<line x1="1228" y1="170.5" x2="1230" y2="170.5" stroke="#fff" stroke-width="1"/>
<line x1="1228" y1="202.5" x2="1230" y2="202.5" stroke="#fff" stroke-width="1"/>
<line x1="1228" y1="234.5" x2="1230" y2="234.5" stroke="#fff" stroke-width="1"/>
<line x1="1228" y1="267.5" x2="1230" y2="267.5" stroke="#fff" stroke-width="1"/>
<line x1="1228" y1="299.5" x2="1230" y2="299.5" stroke="#fff" stroke-width="1"/>
<line x1="1228" y1="331.5" x2="1230" y2="331.5" stroke="#fff" stroke-width="1"/>
<line x1="1228" y1="337.5" x2="1229" y2="337.5" stroke="#fff" stroke-width="1"/>
<line x1="3.5" y1="463" x2="3.5" y2="466" stroke="#fff" stroke-width="1"/>
<line x1="67.5" y1="463" x2="67.5" y2="466" stroke="#fff" stroke-width="1"/>
<line x1="131.5" y1="463" x2="131.5" y2="466" stroke="#fff" stroke-width="1"/>
<line x1="195.5" y1="463" x2="195.5" y2="466" stroke="#fff" stroke-width="1"/>
<line x1="259.5" y1="463" x2="259.5" y2="466" stroke="#fff" stroke-width="1"/>
<line x1="323.5" y1="463" x2="323.5" y2="466" stroke="#fff" stroke-width="1"/>
<line x1="387.5" y1="463" x2="387.5" y2="466" stroke="#fff" stroke-width="1"/>
<line x1="451.5" y1="463" x2="451.5" y2="466" stroke="#fff" stroke-width="1"/>
<line x1="515.5" y1="463" x2="515.5" y2="466" stroke="#fff" stroke-width="1"/>
<line x1="579.5" y1="463" x2="579.5" y2="466" stroke="#fff" stroke-width="1"/>
<line x1="643.5" y1="463" x2="643.5" y2="466" stroke="#fff" stroke-width="1"/>
<line x1="707.5" y1="463" x2="707.5" y2="466" stroke="#fff" stroke-width="1"/>
<line x1="771.5" y1="463" x2="771.5" y2="466" stroke="#fff" stroke-width="1"/>
<line x1="835.5" y1="463" x2="835.5" y2="466" stroke="#fff" stroke-width="1"/>
<line x1="899.5" y1="463" x2="899.5" y2="466" stroke="#fff" stroke-width="1"/>
<line x1="963.5" y1="463" x2="963.5" y2="466" stroke="#fff" stroke-width="1"/>
</g>
<text x="1232.6" y="12.1" textLength="27.6" lengthAdjust="spacingAndGlyphs">2416.5</text>
<text x="1232.6" y="44.1" textLength="27.6" lengthAdjust="spacingAndGlyphs">2403.0</text>
<text x="1232.6" y="76.1" textLength="27.6" lengthAdjust="spacingAndGlyphs">2389.0</text>
<text x="1232.6" y="109.1" textLength="27.6" lengthAdjust="spacingAndGlyphs">2375.0</text>
<text x="1232.6" y="173.1" textLength="27.6" lengthAdjust="spacingAndGlyphs">2347.5</text>
<text x="1232.6" y="205.1" textLength="27.6" lengthAdjust="spacingAndGlyphs">2334.0</text>
<text x="1232.6" y="237.1" textLength="27.6" lengthAdjust="spacingAndGlyphs">2320.0</text>
<text x="1232.6" y="270.1" textLength="27.6" lengthAdjust="spacingAndGlyphs">2306.0</text>
<text x="1232.6" y="302.1" textLength="27.6" lengthAdjust="spacingAndGlyphs">2292.5</text>
<text x="1232.6" y="334.1" textLength="27.6" lengthAdjust="spacingAndGlyphs">2278.5</text>
<rect x="1230" y="15" width="34" height="11" fill="#FFD700" shape-rendering="crispEdges"/>
<text x="1232.6" y="24.1" textLength="27.6" lengthAdjust="spacingAndGlyphs" style="fill:#000;stroke:#000">2411.7</text>
<rect x="1230" y="130" width="34" height="11" fill="#FFFFFF" shape-rendering="crispEdges"/>
<text x="1232.6" y="139.1" textLength="27.6" lengthAdjust="spacingAndGlyphs" style="fill:#000;stroke:#000">2362.4</text>
<rect x="1230" y="188" width="34" height="11" fill="#FF0000" shape-rendering="crispEdges"/>
<text x="1232.6" y="197.1" textLength="27.6" lengthAdjust="spacingAndGlyphs" style="fill:#000;stroke:#000">2337.3</text>
<rect x="1230" y="205" width="34" height="11" fill="#FFD700" shape-rendering="crispEdges"/>
<text x="1232.6" y="214.1" textLength="27.6" lengthAdjust="spacingAndGlyphs" style="fill:#000;stroke:#000">2330.1</text>
<rect x="1230" y="238" width="34" height="11" fill="#FF0000" shape-rendering="crispEdges"/>
<text x="1232.6" y="247.1" textLength="27.6" lengthAdjust="spacingAndGlyphs" style="fill:#000;stroke:#000">2315.7</text>
<rect x="1230" y="308" width="34" height="11" fill="#FF0000" shape-rendering="crispEdges"/>
<text x="1232.6" y="317.1" textLength="27.6" lengthAdjust="spacingAndGlyphs" style="fill:#000;stroke:#000">2286.0</text>
<text x="1229.7" y="346.1" textLength="15" lengthAdjust="spacingAndGlyphs">100</text>
<text x="1229.7" y="364.1" textLength="9.6" lengthAdjust="spacingAndGlyphs">80</text>
<text x="1229.7" y="439.1" textLength="9.6" lengthAdjust="spacingAndGlyphs">20</text>
<text x="1230.5" y="459.1" textLength="4.6" lengthAdjust="spacingAndGlyphs">0</text>
<rect x="6" y="5" width="180" height="11" fill="#000" shape-rendering="crispEdges"/>
<text x="6.8" y="14.1" textLength="178" lengthAdjust="spacingAndGlyphs">[NQ100],H1  2376.6 2379.4 2362.4 2362.4</text>
<text x="6.8" y="349.1" textLength="121.5" lengthAdjust="spacingAndGlyphs">Stoch(5,3,3) 25.1007 56.1550</text>
<text x="5.8" y="457.1" textLength="248.5" lengthAdjust="spacingAndGlyphs">MetaTrader 4, © 2001-2011 MetaQuotes Software Corp.</text>
<text x="1.8" y="475.1" textLength="50.5" lengthAdjust="spacingAndGlyphs">25 Oct 2011</text>
<text x="65.8" y="475.1" textLength="53" lengthAdjust="spacingAndGlyphs">26 Oct 02:00</text>
<text x="129.8" y="475.1" textLength="53" lengthAdjust="spacingAndGlyphs">26 Oct 18:00</text>
<text x="193.8" y="475.1" textLength="53" lengthAdjust="spacingAndGlyphs">27 Oct 10:00</text>
<text x="257.8" y="475.1" textLength="53" lengthAdjust="spacingAndGlyphs">28 Oct 02:00</text>
<text x="321.8" y="475.1" textLength="53" lengthAdjust="spacingAndGlyphs">28 Oct 18:00</text>
<text x="385.8" y="475.1" textLength="53" lengthAdjust="spacingAndGlyphs">31 Oct 11:00</text>
<text x="449.8" y="475.1" textLength="51" lengthAdjust="spacingAndGlyphs">1 Nov 03:00</text>
<text x="513.8" y="475.1" textLength="51" lengthAdjust="spacingAndGlyphs">1 Nov 19:00</text>
<text x="577.8" y="475.1" textLength="51" lengthAdjust="spacingAndGlyphs">2 Nov 11:00</text>
<text x="641.8" y="475.1" textLength="51" lengthAdjust="spacingAndGlyphs">3 Nov 03:00</text>
<text x="705.8" y="475.1" textLength="51" lengthAdjust="spacingAndGlyphs">3 Nov 19:00</text>
<text x="769.8" y="475.1" textLength="51" lengthAdjust="spacingAndGlyphs">4 Nov 11:00</text>
<text x="833.8" y="475.1" textLength="51" lengthAdjust="spacingAndGlyphs">7 Nov 05:00</text>
<text x="897.8" y="475.1" textLength="51" lengthAdjust="spacingAndGlyphs">7 Nov 21:00</text>
<text x="961.8" y="475.1" textLength="51" lengthAdjust="spacingAndGlyphs">8 Nov 13:00</text>
</svg>
</body></html>
